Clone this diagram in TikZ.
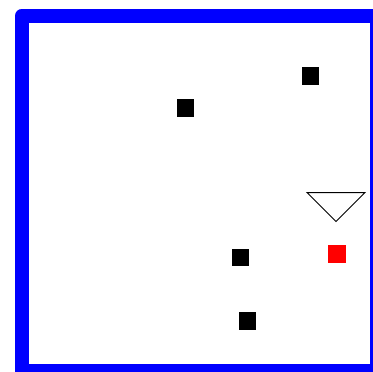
\documentclass[tikz,border=0pt]{standalone}
\begin{document}
\begin{tikzpicture}[x=1pt,y=-1pt,
  blk/.style={fill=black,minimum size=17.5pt,inner sep=0pt,outer sep=0pt,draw=none},
  redsq/.style={fill=red,minimum size=18pt,inner sep=0pt,outer sep=0pt,draw=none},
  frame/.style={draw=blue,line width=14pt,line join=round}]
\useasboundingbox (0,0) rectangle (373,372);
\clip (0,0) rectangle (373,372);
\fill[white] (0,0) rectangle (373,372);
\draw[frame] (22,15.5) rectangle (377,371);
\node[blk] (s1) at (310.5,76) {};
\node[blk] (s2) at (185.5,108) {};
\node[blk] (s3) at (240.7,257.5) {};
\node[blk] (s4) at (247.5,321) {};
\node[redsq] (r1) at (337,254) {};
\draw[black,line width=1pt,line join=miter] (307,192.5) -- (365,192.5) -- (336,221.5) -- cycle;
\end{tikzpicture}
\end{document}
